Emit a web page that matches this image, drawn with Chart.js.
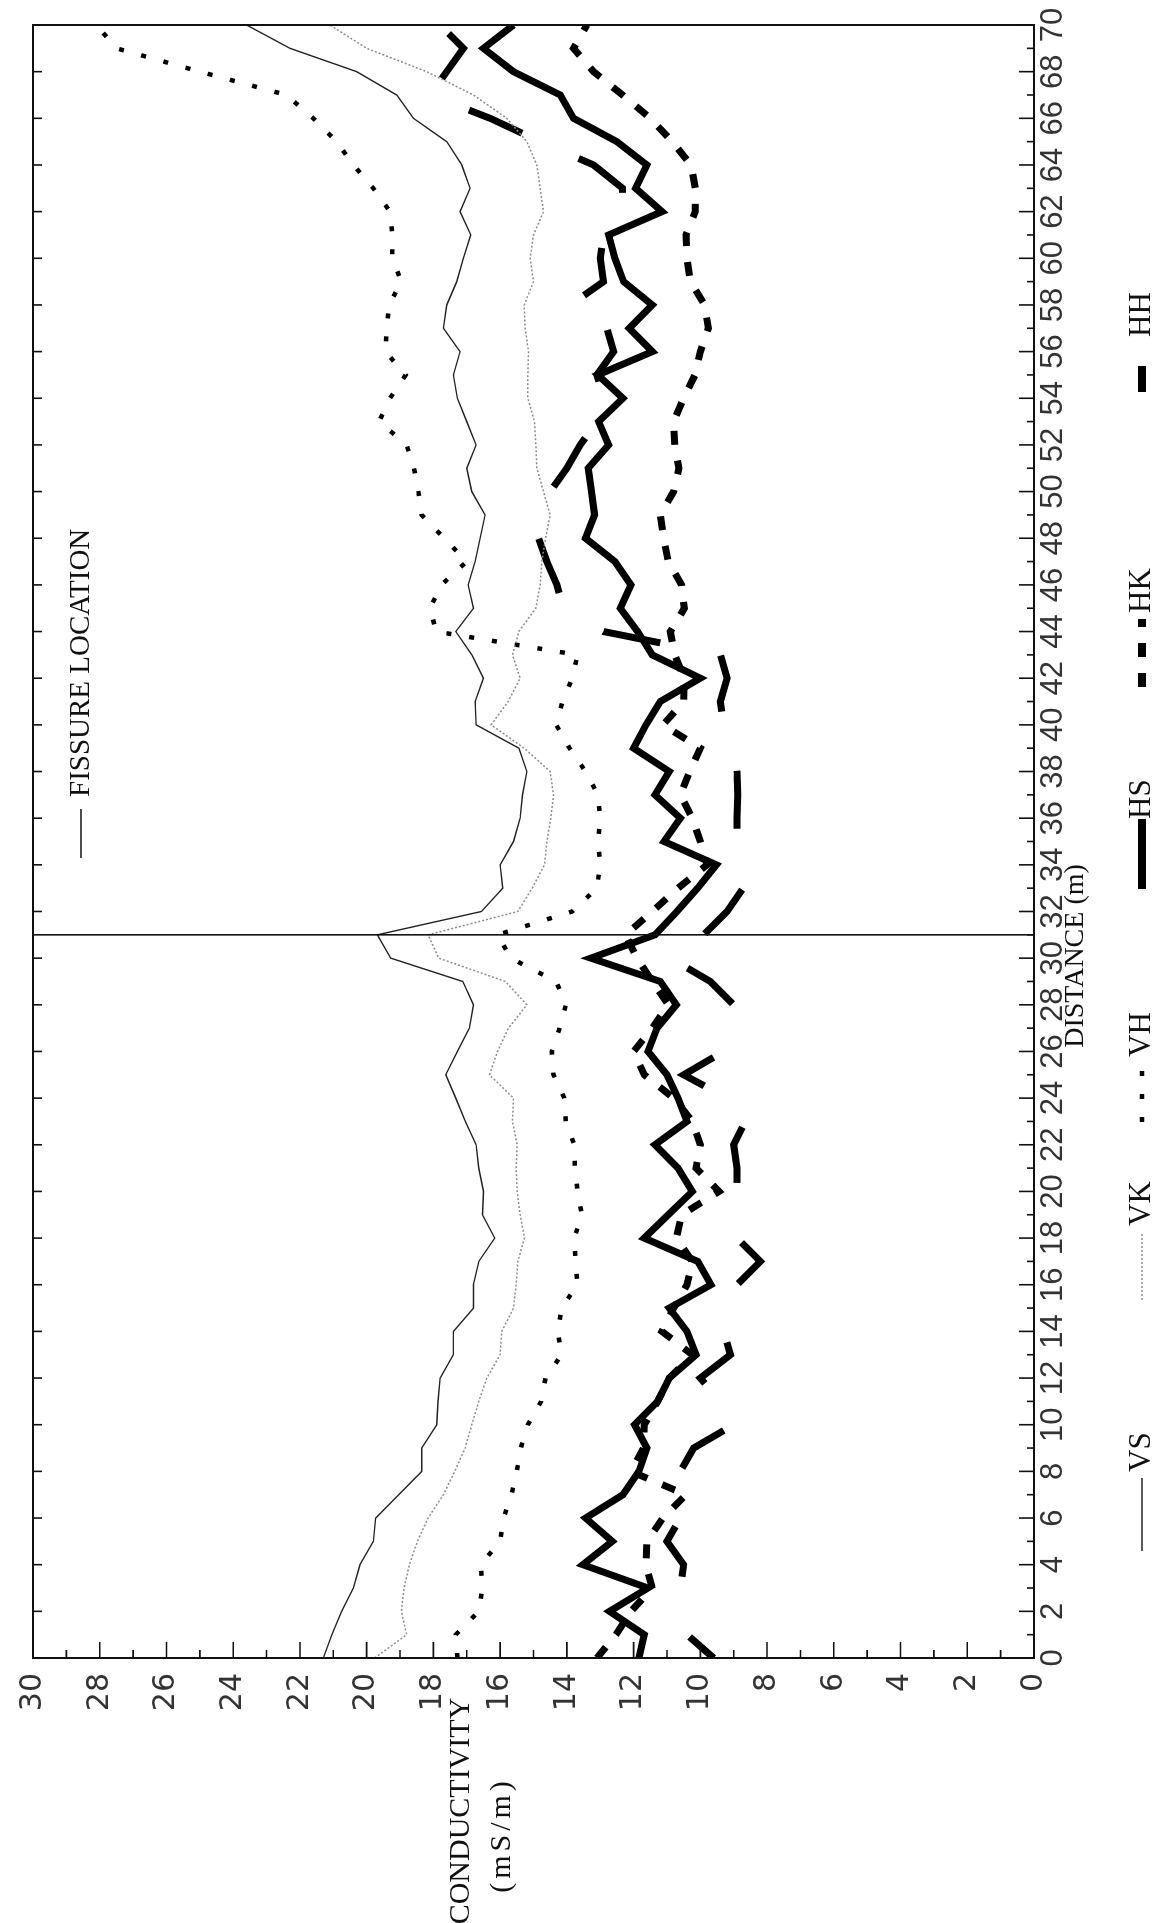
<!DOCTYPE html>
<html>
<head>
<meta charset="utf-8">
<script src="https://cdn.jsdelivr.net/npm/chart.js@4.4.1/dist/chart.umd.min.js"></script>
<style>
  html, body { margin: 0; padding: 0; background: #fff; overflow: hidden; }
  /* the chart is drawn landscape and turned a quarter turn, like the scanned figure */
  #wrap { position: absolute; left: 0; top: 0; width: 1923px; height: 1154px;
          transform-origin: 0 0; transform: translateY(1923px) rotate(-90deg); }
</style>
</head>
<body>
<div id="wrap"><canvas id="chart" width="1923" height="1154"></canvas></div>
<script>
// distance along the profile (m)
const distance = [0, 1, 2, 3, 4, 5, 6, 7, 8, 9, 10, 11, 12, 13, 14, 15, 16, 17, 18, 19,
    20, 21, 22, 23, 24, 25, 26, 27, 28, 29, 30, 31, 32, 33, 34, 35, 36, 37, 38, 39,
    40, 41, 42, 43, 44, 45, 46, 47, 48, 49, 50, 51, 52, 53, 54, 55, 56, 57, 58, 59,
    60, 61, 62, 63, 64, 65, 66, 67, 68, 69, 70];

// conductivity readings (mS/m)
const vs = [21.3, 21.04, 20.75, 20.4, 20.2, 19.8, 19.73, 19.04, 18.35, 18.35, 17.9, 17.86, 17.8, 17.4, 17.4, 16.8, 16.8, 16.64, 16.16, 16.53,
    16.5, 16.64, 16.72, 17.04, 17.33, 17.63, 17.28, 16.92, 16.8, 17.12, 19.28, 19.68, 16.56, 15.92, 16.0, 15.6, 15.4, 15.33, 15.2, 15.44,
    16.72, 16.75, 16.5, 16.85, 17.33, 16.8, 16.96, 16.75, 16.6, 16.45, 16.85, 17.0, 16.72, 17.0, 17.28, 17.4, 17.2, 17.7, 17.6, 17.3,
    17.1, 16.88, 17.2, 16.9, 17.15, 17.6, 18.6, 19.1, 20.3, 22.3, 23.6];
const vk = [19.76, 18.8, 18.96, 18.88, 18.72, 18.48, 18.16, 17.7, 17.36, 17.05, 16.85, 16.64, 16.4, 16.0, 15.95, 15.6, 15.52, 15.47, 15.27, 15.4,
    15.49, 15.52, 15.49, 15.63, 15.6, 16.32, 16.08, 15.75, 15.2, 15.84, 17.84, 18.16, 15.47, 15.04, 14.67, 14.6, 14.48, 14.4, 14.5, 15.28,
    16.27, 15.76, 15.4, 15.63, 15.44, 14.93, 14.8, 14.75, 14.64, 14.5, 14.7, 14.9, 14.93, 14.97, 15.17, 15.17, 15.15, 15.25, 15.28, 15.0,
    15.1, 15.0, 14.7, 14.8, 14.9, 15.2, 15.8, 16.8, 18.2, 20.0, 21.1];
const vh = [17.28, 17.33, 16.64, 16.53, 16.58, 16.0, 15.9, 15.66, 15.5, 15.38, 15.17, 14.77, 14.64, 14.16, 14.27, 14.16, 13.68, 13.74, 13.78, 13.55,
    13.68, 13.76, 13.78, 14.03, 14.08, 14.4, 14.45, 14.22, 14.03, 14.32, 15.68, 16.08, 13.84, 13.1, 13.0, 13.07, 13.0, 13.07, 13.44, 13.92,
    14.32, 14.13, 13.84, 13.68, 17.92, 18.1, 17.76, 17.0, 17.68, 18.35, 18.45, 18.58, 18.8, 19.63, 19.3, 18.83, 19.44, 19.4, 19.33, 18.96,
    19.23, 19.23, 19.3, 19.8, 20.4, 20.9, 21.6, 22.4, 25.0, 27.5, 28.1];
const hs = [11.84, 11.68, 12.72, 11.57, 13.52, 12.64, 13.44, 12.32, 11.84, 11.6, 11.97, 11.28, 10.93, 10.13, 10.4, 10.93, 9.68, 10.08, 11.68, 10.96,
    10.24, 10.67, 11.36, 10.4, 10.67, 11.0, 11.57, 11.3, 10.72, 11.2, 13.28, 11.36, 10.7, 10.08, 9.52, 11.09, 10.6, 11.36, 10.93, 12.0,
    11.63, 11.2, 10.0, 11.44, 11.88, 12.4, 12.08, 12.56, 13.44, 13.17, 13.26, 13.36, 12.75, 13.05, 12.32, 13.07, 11.44, 12.13, 11.44, 12.3,
    12.56, 12.75, 11.15, 11.94, 11.6, 12.5, 13.8, 14.2, 15.6, 16.5, 15.6];
const hk = [13.1, 12.53, 12.08, 11.44, 11.63, 11.6, 11.12, 10.43, 12.08, 11.7, 11.68, 11.28, 10.93, 10.24, 11.15, 10.8, 10.4, 10.24, 10.72, 10.56,
    9.44, 10.13, 10.0, 10.24, 10.8, 11.68, 12.0, 11.44, 10.96, 11.44, 11.9, 12.24, 11.44, 10.67, 9.8, 10.0, 10.24, 10.6, 10.32, 10.0,
    11.12, 10.5, 10.48, 10.77, 10.9, 10.48, 10.56, 10.96, 11.1, 11.2, 10.8, 10.64, 10.77, 10.8, 10.5, 10.16, 10.0, 9.76, 9.87, 10.3,
    10.4, 10.43, 10.15, 10.15, 10.28, 10.84, 11.5, 12.33, 13.2, 13.8, 13.4];
const hh = [9.6, 10.4, 10.5, 10.6, 10.5, 11.0, 10.6, 10.4, 10.6, 10.2, 9.0, 9.4, 10.0, 9.1, 9.3, 9.0, 8.9, 8.2, 8.9, 9.0,
    8.9, 8.9, 9.0, 8.65, 9.2, 10.5, 9.3, 9.0, 9.0, 9.7, 10.9, 9.9, 9.2, 8.72, 8.72, 8.9, 8.9, 8.88, 8.9, 8.96,
    9.3, 9.4, 9.2, 9.4, 12.9, 14.1, 14.3, 14.6, 14.85, 15.1, 14.5, 14.0, 13.6, 13.1, 12.9, 13.1, 12.6, 12.8, 13.9, 12.9,
    13.0, 12.9, 12.33, 12.33, 13.2, 14.8, 16.3, 18.1, 17.6, 17.1, 17.8];

const seriesNames = ['VS', 'VK', 'VH', 'HS', 'HK', 'HH'];
const fissureAt = 31;

// where each legend entry sits along the bottom (sample start, sample end, text start)
const legendPos = [[372, 445, 451], [623, 690, 697], [801, 852, 866], [1034, 1104, 1104], [1236, 1304, 1310], [1531, 1557, 1586]];

const serif = '"Liberation Serif", "Times New Roman", serif';

const styles = [
    { borderColor: '#222', borderWidth: 1.4, borderDash: [] },
    { borderColor: '#8c8c8c', borderWidth: 1.5, borderDash: [2, 2] },
    { borderColor: '#000', borderWidth: 4.5, borderDash: [5, 18] },
    { borderColor: '#000', borderWidth: 7, borderDash: [] },
    { borderColor: '#000', borderWidth: 7, borderDash: [14, 16] },
    { borderColor: '#000', borderWidth: 7, borderDash: [58, 62], borderDashOffset: 26 }
];

const values = [vs, vk, vh, hs, hk, hh];
const datasets = values.map((vals, i) => Object.assign({
    label: seriesNames[i],
    data: distance.map((d, j) => ({ x: d, y: vals[j] })),
    pointRadius: 0,
    tension: 0,
    fill: false,
    borderCapStyle: 'butt',
    borderJoinStyle: 'miter'
}, styles[i]));

const decor = {
    id: 'decor',
    afterDraw(chart) {
        const ctx = chart.ctx;
        const a = chart.chartArea;
        const x = chart.scales.x, y = chart.scales.y;
        ctx.save();
        ctx.strokeStyle = '#111';
        ctx.setLineDash([]);

        // fissure marker
        const fx = x.getPixelForValue(fissureAt);
        ctx.lineWidth = 1.6;
        ctx.beginPath();
        ctx.moveTo(fx, a.top);
        ctx.lineTo(fx, a.bottom);
        ctx.stroke();

        // frame
        ctx.lineWidth = 2;
        ctx.strokeRect(a.left, a.top, a.right - a.left, a.bottom - a.top);

        // inward tick marks
        ctx.lineWidth = 1.6;
        ctx.beginPath();
        for (let d = 0; d <= 70; d++) {
            const px = x.getPixelForValue(d);
            ctx.moveTo(px, a.bottom);
            ctx.lineTo(px, a.bottom - (d % 2 ? 7 : 15));
            if (d % 2 === 0) {
                ctx.moveTo(px, a.top);
                ctx.lineTo(px, a.top + 9);
            }
        }
        for (let c = 0; c <= 30; c++) {
            const py = y.getPixelForValue(c);
            ctx.moveTo(a.left, py);
            ctx.lineTo(a.left + (c % 2 ? 8 : 16), py);
        }
        ctx.stroke();

        // texts
        ctx.fillStyle = '#111';
        ctx.textBaseline = 'middle';
        ctx.font = '29px ' + serif;
        ctx.textAlign = 'left';
        ctx.fillText('FISSURE LOCATION', 1126, 81);
        ctx.beginPath();
        ctx.moveTo(1065, 81);
        ctx.lineTo(1114, 81);
        ctx.stroke();

        ctx.textAlign = 'center';
        ctx.font = '28px ' + serif;
        ctx.fillText('DISTANCE (m)', 967, 1076);
        ctx.font = '30px ' + serif;
        ctx.fillText('CONDUCTIVITY', 112, 461);
        ctx.letterSpacing = '4px';
        ctx.fillText('(mS/m)', 88, 502);
        ctx.letterSpacing = '0px';

        // legend
        ctx.font = '31px ' + serif;
        ctx.textAlign = 'left';
        chart.data.datasets.forEach((ds, i) => {
            const p = legendPos[i];
            const v = 1142;
            ctx.strokeStyle = ds.borderColor;
            ctx.lineWidth = i >= 3 ? 8 : ds.borderWidth;
            ctx.setLineDash(ds.borderDash || []);
            ctx.lineDashOffset = 0;
            ctx.beginPath();
            ctx.moveTo(p[0], v);
            ctx.lineTo(p[1], v);
            ctx.stroke();
            ctx.setLineDash([]);
            ctx.fillText(ds.label, p[2], v);
        });
        ctx.restore();
    }
};

const tickFont = { family: '"Liberation Sans", Arial, sans-serif', size: 31 };

new Chart(document.getElementById('chart'), {
    type: 'line',
    data: { datasets: datasets },
    options: {
        responsive: false,
        animation: false,
        devicePixelRatio: 1,
        layout: { padding: { top: 22, right: 25, left: 0, bottom: 0 } },
        plugins: { legend: { display: false }, tooltip: { enabled: false } },
        scales: {
            x: {
                type: 'linear', min: 0, max: 70,
                grid: { display: false, drawTicks: false },
                border: { display: false },
                ticks: { stepSize: 2, font: tickFont, color: '#333', padding: 1, maxRotation: 0, autoSkip: false },
                afterFit: s => { s.height = 120; }
            },
            y: {
                type: 'linear', min: 0, max: 30,
                grid: { display: false, drawTicks: false },
                border: { display: false },
                ticks: { stepSize: 2, font: { family: '"DejaVu Sans", sans-serif', size: 30 }, color: '#333', padding: 15 },
                afterFit: s => { s.width = 265; }
            }
        }
    },
    plugins: [decor]
});
</script>
</body>
</html>
